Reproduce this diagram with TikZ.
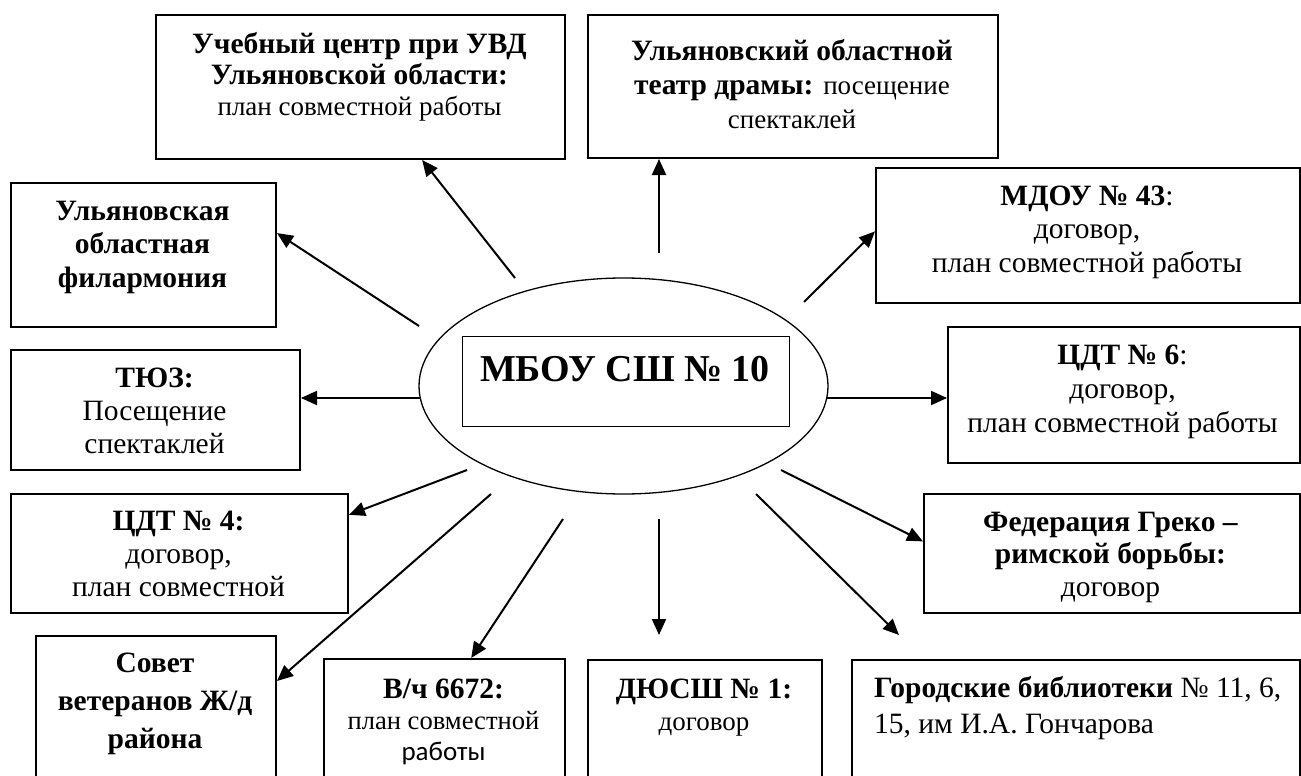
\documentclass[tikz,border=0pt]{standalone}
\usepackage{fontspec}
\setmainfont{Liberation Serif}
\setsansfont{Carlito}
\usetikzlibrary{arrows.meta,shapes.geometric,calc}
\newcommand{\fst}{\rule{0pt}{24pt}}
\newcommand{\rg}[1]{{\fontsize{27}{33}\selectfont #1}}
\begin{document}
\begin{tikzpicture}[x=1pt,y=-1pt,
  box/.style={draw, line width=2pt, inner sep=0pt, anchor=north west},
  conn/.style={line width=2pt, -{Triangle[length=16pt,width=14pt]}},
  txt/.style={align=center, inner sep=0pt, anchor=north, font=\fontsize{29.5}{33}\selectfont},
]
\useasboundingbox (0,0) rectangle (1301,776);
\fill[white] (0,0) rectangle (1301,776);
\clip (0,0) rectangle (1301,776);

% boxes
\node[box, minimum width=409pt, minimum height=144pt] (ucheb) at (155,14) {};
\node[box, minimum width=410pt, minimum height=143pt] (teatr) at (587,14) {};
\node[box, minimum width=265pt, minimum height=144pt] (filarm) at (10,182) {};
\node[box, minimum width=289pt, minimum height=120pt] (tyuz) at (10,349) {};
\node[box, minimum width=337pt, minimum height=119pt] (cdt4) at (10,493) {};
\node[box, minimum width=240pt, minimum height=170pt] (sovet) at (35,635) {};
\node[box, minimum width=241pt, minimum height=150pt] (vch) at (323,658) {};
\node[box, minimum width=234pt, minimum height=150pt] (dyussh) at (587,659) {};
\node[box, minimum width=448pt, minimum height=150pt] (gorod) at (851,659) {};
\node[box, minimum width=376pt, minimum height=119pt] (fed) at (923,493) {};
\node[box, minimum width=352pt, minimum height=136pt] (cdt6) at (947,326) {};
\node[box, minimum width=424pt, minimum height=135pt] (mdou) at (875,167) {};

% centre
\node[draw, ellipse, line width=1.3pt, inner sep=0pt, minimum width=409pt, minimum height=216pt] (ell) at (623.5,386) {};
\node[draw, line width=1pt, inner sep=0pt, minimum width=327pt, minimum height=90pt] (ttlbox) at (625.5,381) {};
\node[inner sep=0pt, anchor=base, font=\fontsize{38}{40}\selectfont\bfseries] (ttl) at (625,381) {МБОУ СШ № 10};

% texts
\node[txt, font=\fontsize{29.5}{31}\selectfont] (ucheb-t) at (359.5,29)
  {\fst\textbf{Учебный центр при УВД}\\\textbf{Ульяновской области:}\\\rg{план совместной работы}};
\node[txt, font=\fontsize{29.5}{34}\selectfont] (teatr-t) at (792,36)
  {\fst\textbf{Ульяновский областной}\\\textbf{театр драмы:} \rg{посещение}\\\rg{спектаклей}};
\node[txt, font=\fontsize{29.5}{33.5}\selectfont\bfseries] (filarm-t) at (142.5,196)
  {\fst Ульяновская\\областная\\филармония};
\node[txt] (tyuz-t) at (154.5,363)
  {\fst\textbf{ТЮЗ:}\\Посещение\\спектаклей};
\node[txt] (cdt4-t) at (178.5,506)
  {\fst\textbf{ЦДТ № 4:}\\договор,\\план совместной};
\node[txt, font=\fontsize{29.5}{38}\selectfont\bfseries] (sovet-t) at (155,648)
  {\fst Совет\\ветеранов Ж/д\\района};
\node[txt, font=\fontsize{29.5}{31}\selectfont] (vch-t) at (443.5,674)
  {\fst\textbf{В/ч 6672:}\\{\fontsize{26.6}{31}\selectfont план совместной}\\{\sffamily\fontsize{27}{31}\selectfont работы}};
\node[txt, font=\fontsize{29.5}{32}\selectfont] (dyussh-t) at (704,674)
  {\fst\textbf{ДЮСШ № 1:}\\\rg{договор}};
\node[txt, align=left, anchor=north west, font=\fontsize{29.5}{36}\selectfont] (gorod-t) at (874,673)
  {\fst\textbf{Городские библиотеки} № 11, 6,\\15, им И.А. Гончарова};
\node[txt, font=\fontsize{29.5}{32.5}\selectfont] (fed-t) at (1110.5,507)
  {\fst\textbf{Федерация Греко –}\\\textbf{римской борьбы:}\\договор};
\node[txt, font=\fontsize{29.5}{34}\selectfont] (cdt6-t) at (1122.5,340)
  {\fst\textbf{ЦДТ № 6}:\\договор,\\план совместной работы};
\node[txt, font=\fontsize{29.5}{33.5}\selectfont] (mdou-t) at (1087,181)
  {\fst\textbf{МДОУ № 43}:\\договор,\\план совместной работы};

% connector free ends
\coordinate (s-ucheb) at (515,278);
\coordinate (s-teatr) at (659,253);
\coordinate (s-mdou) at (804,302);
\coordinate (s-filarm) at (419,326);
\coordinate (s-tyuz) at (420,398);
\coordinate (s-cdt6) at (827,398);
\coordinate (s-cdt4) at (467,470);
\coordinate (s-sovet) at (491,494);
\coordinate (s-vch) at (563,519);
\coordinate (s-dyussh) at (659,519);
\coordinate (e-dyussh) at (659,635);
\coordinate (s-gorod) at (756,494);
\coordinate (e-gorod) at (899,635);
\coordinate (s-fed) at (781,470);

% connectors
\draw[conn] (s-ucheb) -- ($(ucheb.south west)!0.65!(ucheb.south east)$);
\draw[conn] (s-teatr) -- (s-teatr |- teatr.south);
\draw[conn] (s-mdou) -- ($(mdou.north west)!0.47!(mdou.south west)$);
\draw[conn] (s-filarm) -- ($(filarm.north east)!0.35!(filarm.south east)$);
\draw[conn] (s-tyuz) -- (s-tyuz -| tyuz.east);
\draw[conn] (s-cdt6) -- (s-cdt6 -| cdt6.west);
\draw[conn] (s-cdt4) -- ($(cdt4.north east)!0.18!(cdt4.south east)$);
\draw[conn] (s-sovet) -- ($(sovet.north east)+(0,46)$);
\draw[conn] (s-vch) -- ($(vch.north west)!0.61!(vch.north east)$);
\draw[conn] (s-dyussh) -- (e-dyussh);
\draw[conn] (s-gorod) -- (e-gorod);
\draw[conn] (s-fed) -- ($(fed.north west)!0.40!(fed.south west)$);
\end{tikzpicture}
\end{document}
